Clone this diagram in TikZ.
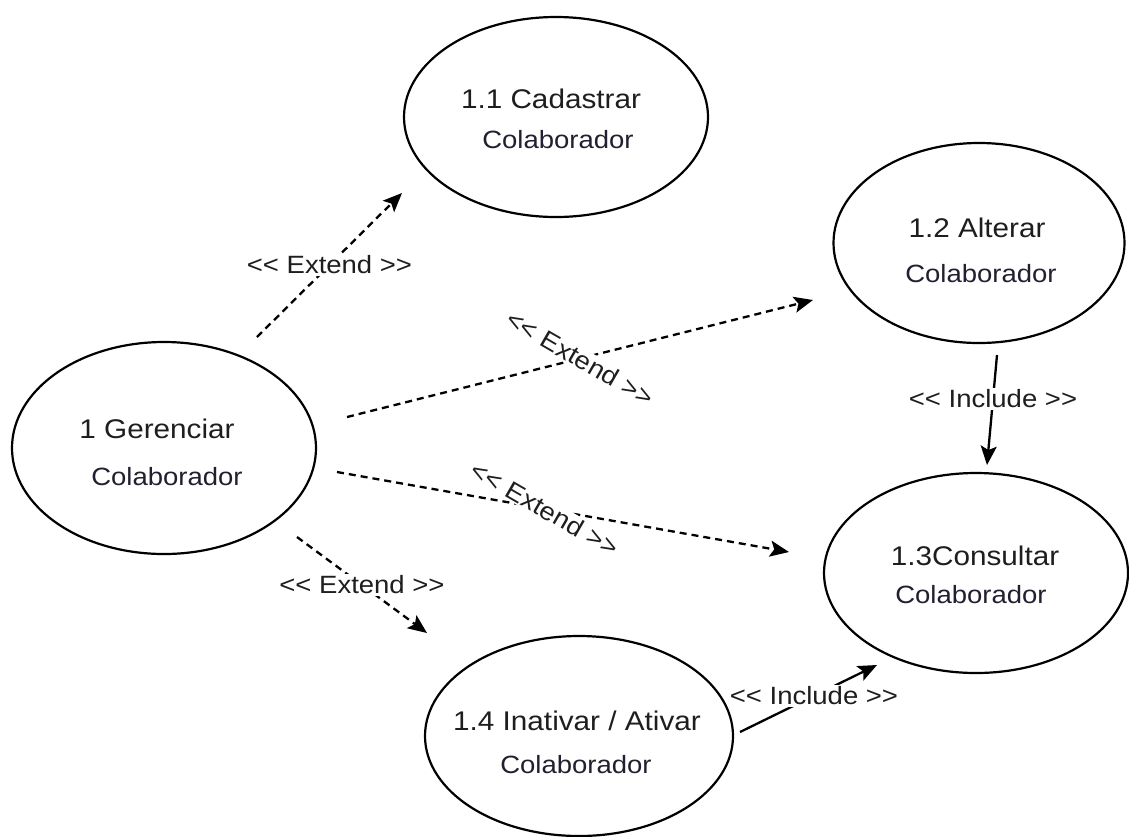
\documentclass[tikz,border=0pt]{standalone}
\usepackage{fontspec}
\setmainfont{Liberation Sans}[FakeStretch=1.1]
\usetikzlibrary{shapes.geometric,arrows.meta}
\definecolor{txt}{HTML}{1E1E1E}
\definecolor{subtxt}{HTML}{202030}
\newcommand{\lt}{<\kern0pt<}
\newcommand{\gt}{>\kern0pt>}
\begin{document}
\begin{tikzpicture}[x=1pt,y=-1pt,
  uc/.style={draw=black, line width=2.2pt, ellipse, inner sep=0pt},
  ttl/.style={text=txt, font=\fontsize{27}{30}\selectfont, inner sep=0pt, anchor=base},
  sub/.style={text=subtxt, font=\fontsize{25}{28}\selectfont, inner sep=0pt, anchor=base},
  tip/.style={-{Stealth[length=19pt,width=16pt,inset=4pt]}},
  ext/.style={draw=black, line width=2.3pt, dash pattern=on 7pt off 5pt, tip},
  inc/.style={draw=black, line width=2.3pt, tip},
  lbl/.style={fill=white, text=txt, font=\fontsize{25}{28}\selectfont, inner sep=1.5pt}
]
\useasboundingbox (0,0) rectangle (1129,836);

% use cases
\node[uc, minimum width=304pt, minimum height=200pt] (u11) at (556,117) {};
\node[ttl] (t11) at (551,108) {1.1 Cadastrar};
\node[sub] (s11) at (558,148) {Colaborador};

\node[uc, minimum width=291pt, minimum height=200pt] (u12) at (979,243) {};
\node[ttl] (t12) at (977,237) {1.2 Alterar};
\node[sub] (s12) at (981,282) {Colaborador};

\node[uc, minimum width=304pt, minimum height=212pt] (u1) at (164,448) {};
\node[ttl] (t1) at (157,438) {1 Gerenciar};
\node[sub] (s1) at (167,485) {Colaborador};

\node[uc, minimum width=304pt, minimum height=200pt] (u13) at (976,573) {};
\node[ttl] (t13) at (975,565) {1.3Consultar};
\node[sub] (s13) at (971,603) {Colaborador};

\node[uc, minimum width=308pt, minimum height=200pt] (u14) at (579,736) {};
\node[ttl] (t14) at (577,730) {1.4 Inativar / Ativar};
\node[sub] (s14) at (576,773) {Colaborador};

% connector ends
\coordinate (e1a) at (257,337); \coordinate (e1b) at (402,193);
\coordinate (e2a) at (347,417); \coordinate (e2b) at (813,300);
\coordinate (e3a) at (337,472); \coordinate (e3b) at (789,552);
\coordinate (e4a) at (297,537); \coordinate (e4b) at (427,633);
\coordinate (i1a) at (997,355); \coordinate (i1b) at (987,465);
\coordinate (i2a) at (740,732); \coordinate (i2b) at (877,665);

% extends
\draw[ext] (e1a) -- node[lbl] (l1) {\lt{} Extend \gt} (e1b);
\draw[ext] (e2a) -- node[lbl, rotate=-30] (l2) {\lt{} Extend \gt} (e2b);
\draw[ext] (e3a) -- node[lbl, rotate=-30, pos=0.46] (l3) {\lt{} Extend \gt} (e3b);
\draw[ext] (e4a) -- node[lbl] (l4) {\lt{} Extend \gt} (e4b);

% includes
\draw[inc] (i1a) -- node[lbl, pos=0.4] (l5) {\lt{} Include \gt} (i1b);
\draw[inc] (i2a) -- node[lbl, pos=0.54] (l6) {\lt{} Include \gt} (i2b);
\end{tikzpicture}
\end{document}
